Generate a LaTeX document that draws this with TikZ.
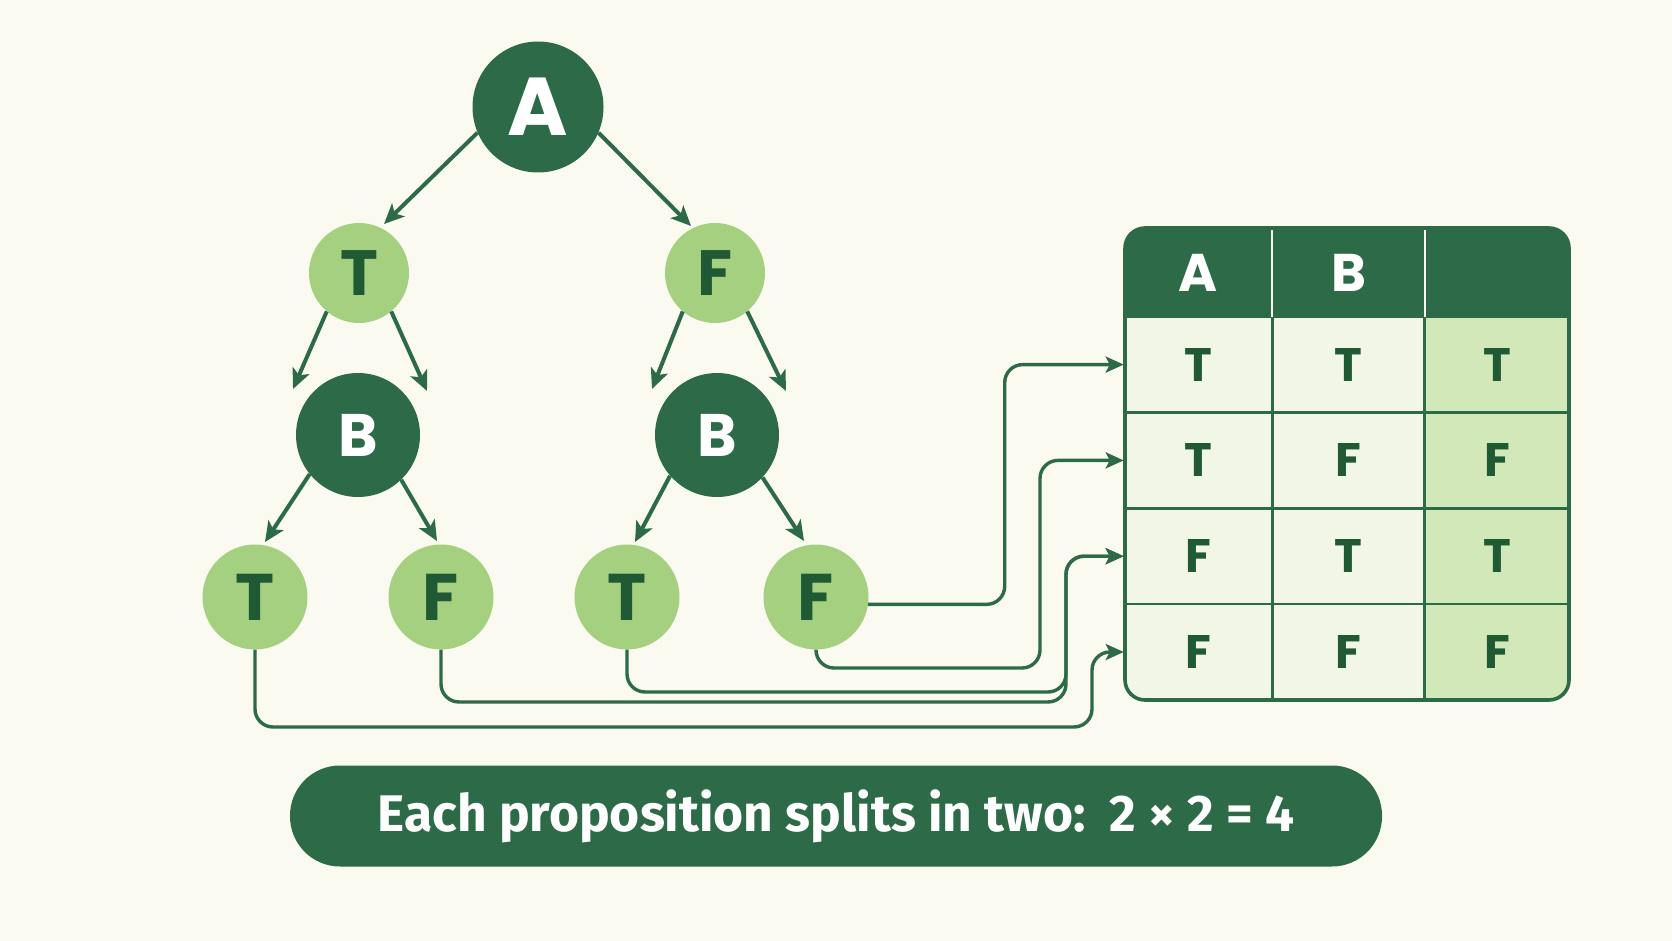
\documentclass[tikz,border=0pt]{standalone}
\usepackage{fontspec}
\usepackage{graphicx}
\setmainfont{Poppins}
\newfontfamily\capfont{Fira Sans}
\usetikzlibrary{arrows.meta,positioning}
\definecolor{paper}{HTML}{FBFAF0}
\definecolor{pine}{HTML}{2D6B48}
\definecolor{leaf}{HTML}{A4D07F}
\definecolor{ink}{HTML}{1F5A35}
\definecolor{cellpale}{HTML}{F2F6E7}
\definecolor{cellmint}{HTML}{D3E8B8}

\begin{document}
\begin{tikzpicture}[x=1pt,y=-1pt]
\tikzset{
  prop/.style={circle, fill=pine, text=white, inner sep=0pt, font=\bfseries\fontsize{60}{60}\selectfont},
  val/.style={circle, fill=leaf, text=ink, inner sep=0pt, minimum size=100pt, font=\bfseries\fontsize{64}{64}\selectfont},
  branch/.style={draw=pine, line width=4pt, -{Stealth[length=20pt,width=18pt,inset=5pt]}},
  route/.style={draw=pine, line width=3.4pt, rounded corners=18pt, -{Stealth[length=18pt,width=16pt,inset=4pt]}},
  head/.style={minimum height=89pt, inner sep=0pt, text=white, font=\bfseries\fontsize{53}{53}\selectfont},
  cell/.style={draw=pine, line width=2.6pt, minimum height=95.8pt, inner sep=0pt, text=ink, font=\bfseries\fontsize{47}{47}\selectfont},
}
\useasboundingbox[fill=paper] (0,0) rectangle (1672,941);

% tree
\node[prop, minimum size=131pt, font=\bfseries\fontsize{82}{82}\selectfont] (A) at (538,107) {A};
\node[val] (T1) at (359,273) {T};
\node[val] (F1) at (715,273) {F};
\node[prop, minimum size=124pt] (B1) at (358,435) {B};
\node[prop, minimum size=124pt] (B2) at (717,435) {B};
\node[val, minimum size=105pt, font=\bfseries\fontsize{66}{66}\selectfont] (TT) at (255,597) {T};
\node[val, minimum size=105pt, font=\bfseries\fontsize{66}{66}\selectfont] (TF) at (441,597) {F};
\node[val, minimum size=105pt, font=\bfseries\fontsize{66}{66}\selectfont] (FT) at (627,597) {T};
\node[val, minimum size=105pt, font=\bfseries\fontsize{66}{66}\selectfont] (FF) at (816,597) {F};

\draw[branch] (A.203) -- ([shift={(25,-49)}]T1.center);
\draw[branch] (A.337) -- ([shift={(-24,-47)}]F1.center);
\draw[branch] (T1.230) -- ([shift={(-65,-46)}]B1.center);
\draw[branch] (T1.310) -- ([shift={(69,-44)}]B1.center);
\draw[branch] (F1.230) -- ([shift={(-65,-46)}]B2.center);
\draw[branch] (F1.310) -- ([shift={(69,-44)}]B2.center);
\draw[branch] (B1.219) -- ([shift={(10,-55)}]TT.center);
\draw[branch] (B1.314) -- ([shift={(-4,-56)}]TF.center);
\draw[branch] (B2.221) -- ([shift={(8,-55)}]FT.center);
\draw[branch] (B2.317) -- ([shift={(-12,-56)}]FF.center);

% truth table
\fill[pine, rounded corners=20pt] (1125,228) rectangle (1569,700);
\begin{scope}
\clip[rounded corners=20pt] (1125,228) rectangle (1569,700);
\node[head, minimum width=147pt] (hA) at (1198.5,272.5) {A};
\node[head, minimum width=152pt] (hB) at (1348.5,272.5) {B};
\node[head, minimum width=145pt] (hC) at (1497,272.5) {};
\foreach \a/\b/\c [count=\r] in {T/T/T, T/F/F, F/T/T, F/F/F}{
  \pgfmathsetmacro\y{316.7+95.8*(\r-0.5)}
  \node[cell, fill=cellpale, minimum width=147pt] (c\r1) at (1198.5,\y) {\a};
  \node[cell, fill=cellpale, minimum width=152pt] (c\r2) at (1348.5,\y) {\b};
  \node[cell, fill=cellmint, minimum width=145pt] (c\r3) at (1497,\y) {\c};
}
\end{scope}
\draw[paper, line width=2pt] (hA.north east) -- (hA.south east);
\draw[paper, line width=2pt] (hB.north east) -- (hB.south east);
\draw[pine, line width=3.6pt, rounded corners=20pt] (1125,228) rectangle (1569,700);

% leaves to rows
\draw[route] (FF.352) -| ([xshift=-119pt]c11.west) -- (c11.west);
\draw[route] (FF.south) |- (1040,668) |- (c21.west);
\draw[route] (FT.south) |- (1066,692) |- (c31.west);
\draw[route] (TF.south) |- (1066,702) |- (c31.west);
\draw[route] (TT.south) |- (1092,727) |- (c41.west);

% caption
\node[fill=pine, rounded corners=50pt, minimum width=1092pt, minimum height=101pt, text=white] (note) at (836,816)
  {\capfont\bfseries\fontsize{51.5}{51.5}\selectfont Each proposition splits in two:\hspace{0.15em} 2 × 2 = 4};
\end{tikzpicture}
\end{document}
